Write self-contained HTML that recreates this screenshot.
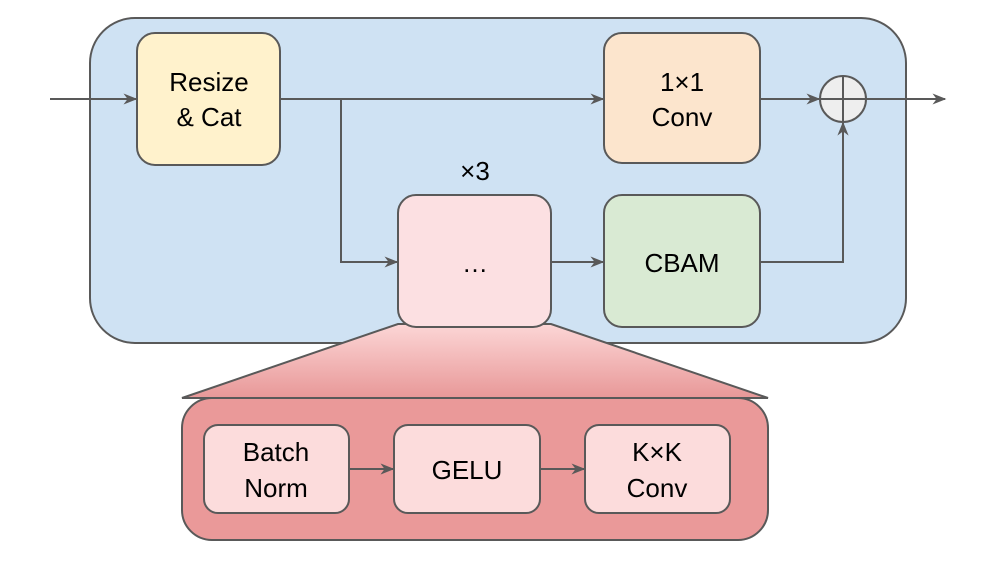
<!DOCTYPE html>
<html><head><style>body{margin:0;background:#fff}svg{display:block}text{font-family:"Liberation Sans",Arial,sans-serif;fill:#000}</style></head><body>
<svg width="996" height="561" viewBox="0 0 996 561">
<defs>
<marker id="a" viewBox="0 0 10 10" refX="9" refY="5" markerWidth="7" markerHeight="7" orient="auto"><path d="M0,1 L10,5 L0,9 L3,5 Z" fill="#595959"/></marker>
<linearGradient id="g" x1="0" y1="0" x2="0" y2="1"><stop offset="0" stop-color="#fcd6d6"/><stop offset="1" stop-color="#e89898"/></linearGradient>
</defs>
<rect x="90" y="18" width="816" height="325" rx="45" fill="#cfe2f3" stroke="#595959" stroke-width="2"/>
<path d="M398,324 L551,324 L768,398 L182,398 Z" fill="url(#g)" stroke="#595959" stroke-width="2"/>
<rect x="182" y="398" width="586" height="142" rx="30" fill="#ea9999" stroke="#595959" stroke-width="2"/>
<g stroke="#595959" stroke-width="2" fill="none">
<line x1="50" y1="99" x2="136" y2="99" marker-end="url(#a)"/>
<line x1="280" y1="99" x2="603" y2="99" marker-end="url(#a)"/>
<polyline points="341,99 341,262 397,262" marker-end="url(#a)"/>
<line x1="551" y1="262" x2="603" y2="262" marker-end="url(#a)"/>
<polyline points="760,262 843,262 843,123" marker-end="url(#a)"/>
<line x1="760" y1="99" x2="819" y2="99" marker-end="url(#a)"/>
<line x1="866" y1="99" x2="945" y2="99" marker-end="url(#a)"/>
<line x1="349" y1="469" x2="393" y2="469" marker-end="url(#a)"/>
<line x1="540" y1="469" x2="584" y2="469" marker-end="url(#a)"/>
</g>
<circle cx="843" cy="99" r="23" fill="#eeeeee" stroke="#595959" stroke-width="2"/>
<line x1="820" y1="99" x2="866" y2="99" stroke="#595959" stroke-width="2"/>
<line x1="843" y1="76" x2="843" y2="122" stroke="#595959" stroke-width="2"/>
<g stroke="#595959" stroke-width="2">
<rect x="137" y="33" width="143" height="132" rx="18" fill="#fff2cc"/>
<rect x="604" y="33" width="156" height="130" rx="18" fill="#fce5cd"/>
<rect x="398" y="195" width="153" height="132" rx="18" fill="#fce0e2"/>
<rect x="604" y="195" width="156" height="132" rx="18" fill="#d9ead3"/>
<rect x="204" y="425" width="145" height="88" rx="14" fill="#fcdcdc"/>
<rect x="394" y="425" width="146" height="88" rx="14" fill="#fcdcdc"/>
<rect x="585" y="425" width="145" height="88" rx="14" fill="#fcdcdc"/>
</g>
<g font-size="26" text-anchor="middle">
<text x="209" y="91">Resize</text><text x="209" y="126">&amp; Cat</text>
<text x="682" y="91">1×1</text><text x="682" y="126">Conv</text>
<text x="475" y="180">×3</text>
<text x="475" y="272">…</text>
<text x="682" y="272">CBAM</text>
<text x="276" y="461">Batch</text><text x="276" y="497">Norm</text>
<text x="467" y="479">GELU</text>
<text x="657" y="461">K×K</text><text x="657" y="497">Conv</text>
</g>
</svg>
</body></html>
